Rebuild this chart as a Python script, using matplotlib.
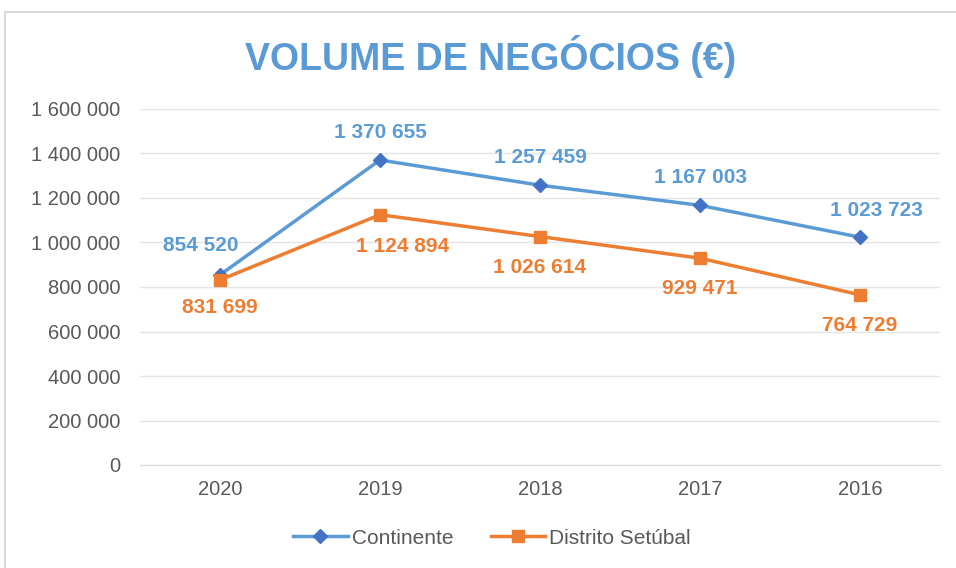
import matplotlib.pyplot as plt
from matplotlib.patches import Rectangle

plt.rcParams['font.family'] = ['Liberation Sans', 'DejaVu Sans']

anos = ['2020', '2019', '2018', '2017', '2016']
continente = [854520, 1370655, 1257459, 1167003, 1023723]
setubal = [831699, 1124894, 1026614, 929471, 764729]
yticks = [0, 200000, 400000, 600000, 800000, 1000000, 1200000, 1400000, 1600000]

azul = '#5B9BD5'
azul_marker = '#4472C4'
laranja = '#ED7D31'
cinza = '#595959'


def fmt(v):
    return f'{v:,}'.replace(',', ' ')


fig = plt.figure(figsize=(9.56, 5.68), dpi=100)
ax = fig.add_axes([140 / 956, 1 - 465 / 568, 800 / 956, 356 / 568])

# moldura do gráfico
fig.patches.append(Rectangle((5 / 956, -0.1), 1.1, 1 - 12 / 568 + 0.1,
                             transform=fig.transFigure, fill=False,
                             edgecolor='#D9D9D9', linewidth=1.5))

x = range(len(anos))
ax.plot(x, continente, color=azul, lw=2.5, marker='D', ms=7,
        mfc=azul_marker, mec=azul_marker, label='Continente', zorder=3)
ax.plot(x, setubal, color=laranja, lw=2.5, marker='s', ms=9,
        mfc=laranja, mec=laranja, label='Distrito Setúbal', zorder=3)

# rótulos de dados (deslocamentos em pontos)
off_c = [(-14, 21), (0, 20), (0, 20), (0, 20), (12, 19)]
off_s = [(0, -20), (16, -23), (0, -22), (0, -22), (0, -22)]
for i in x:
    ax.annotate(fmt(continente[i]), (i, continente[i]), xytext=off_c[i],
                textcoords='offset points', ha='center', va='center',
                color=azul, fontsize=15, fontweight='bold')
    ax.annotate(fmt(setubal[i]), (i, setubal[i]), xytext=off_s[i],
                textcoords='offset points', ha='center', va='center',
                color=laranja, fontsize=15, fontweight='bold')

ax.set_xlim(-0.5, 4.5)
ax.set_ylim(0, 1600000)
ax.set_xticks(list(x))
ax.set_xticklabels(anos)
ax.set_yticks(yticks)
ax.set_yticklabels([fmt(v) for v in yticks])
ax.tick_params(colors=cinza, labelsize=14.5, length=0)
ax.tick_params(axis='y', pad=14)
ax.tick_params(axis='x', pad=11)
ax.grid(axis='y', color='#E5E5E5', lw=1)
ax.set_axisbelow(True)
for s in ['top', 'right', 'left']:
    ax.spines[s].set_visible(False)
ax.spines['bottom'].set_color('#D9D9D9')

fig.text(491 / 956, 1 - 57 / 568, 'VOLUME DE NEGÓCIOS (€)', ha='center', va='center',
         color=azul, fontsize=27, fontweight='bold')

fig.legend(loc='center', bbox_to_anchor=(492 / 956, 1 - 538 / 568), ncol=2,
           frameon=False, fontsize=15, labelcolor=cinza, handlelength=2.6,
           columnspacing=1.8, handletextpad=0.2)

fig.savefig('out.png', dpi=100)
